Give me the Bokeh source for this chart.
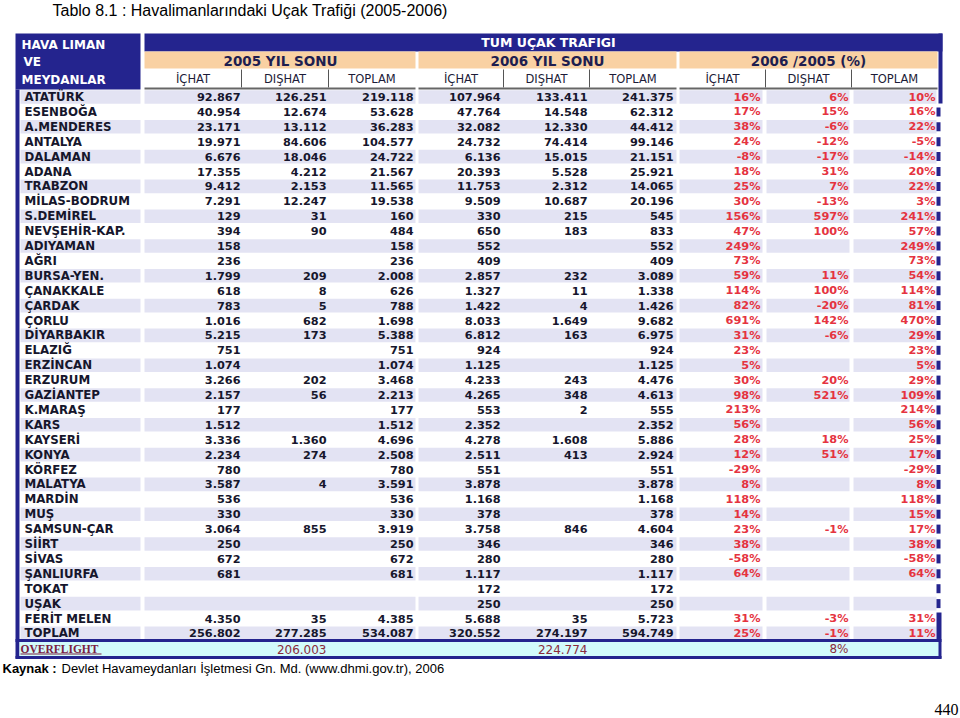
from bokeh.plotting import figure
from bokeh.models import Range1d
from bokeh.embed import file_html
from bokeh.resources import INLINE
from bokeh.core.properties import value

# ---------------- data ----------------
title = "Tablo 8.1 : Havalimanlarındaki Uçak Trafiği (2005-2006)"
source_bold = "Kaynak :"
source_text = "Devlet Havameydanları İşletmesi Gn. Md. (www.dhmi.gov.tr), 2006"
page_number = "440"

group_labels = ["2005 YIL SONU", "2006 YIL SONU", "2006 /2005 (%)"]
sub_labels = ["İÇHAT", "DIŞHAT", "TOPLAM"]

airports = ["ATATÜRK", "ESENBOĞA", "A.MENDERES", "ANTALYA", "DALAMAN", "ADANA",
            "TRABZON", "MİLAS-BODRUM", "S.DEMİREL", "NEVŞEHİR-KAP.", "ADIYAMAN",
            "AĞRI", "BURSA-YEN.", "ÇANAKKALE", "ÇARDAK", "ÇORLU", "DİYARBAKIR",
            "ELAZIĞ", "ERZİNCAN", "ERZURUM", "GAZİANTEP", "K.MARAŞ", "KARS",
            "KAYSERİ", "KONYA", "KÖRFEZ", "MALATYA", "MARDİN", "MUŞ",
            "SAMSUN-ÇAR", "SİİRT", "SİVAS", "ŞANLIURFA", "TOKAT", "UŞAK",
            "FERİT MELEN", "TOPLAM"]

ichat_2005 = [92867, 40954, 23171, 19971, 6676, 17355, 9412, 7291, 129, 394, 158,
              236, 1799, 618, 783, 1016, 5215, 751, 1074, 3266, 2157, 177, 1512,
              3336, 2234, 780, 3587, 536, 330, 3064, 250, 672, 681, None, None,
              4350, 256802]
dishat_2005 = [126251, 12674, 13112, 84606, 18046, 4212, 2153, 12247, 31, 90, None,
               None, 209, 8, 5, 682, 173, None, None, 202, 56, None, None,
               1360, 274, None, 4, None, None, 855, None, None, None, None, None,
               35, 277285]
toplam_2005 = [219118, 53628, 36283, 104577, 24722, 21567, 11565, 19538, 160, 484, 158,
               236, 2008, 626, 788, 1698, 5388, 751, 1074, 3468, 2213, 177, 1512,
               4696, 2508, 780, 3591, 536, 330, 3919, 250, 672, 681, None, None,
               4385, 534087]
ichat_2006 = [107964, 47764, 32082, 24732, 6136, 20393, 11753, 9509, 330, 650, 552,
              409, 2857, 1327, 1422, 8033, 6812, 924, 1125, 4233, 4265, 553, 2352,
              4278, 2511, 551, 3878, 1168, 378, 3758, 346, 280, 1117, 172, 250,
              5688, 320552]
dishat_2006 = [133411, 14548, 12330, 74414, 15015, 5528, 2312, 10687, 215, 183, None,
               None, 232, 11, 4, 1649, 163, None, None, 243, 348, 2, None,
               1608, 413, None, None, None, None, 846, None, None, None, None, None,
               35, 274197]
toplam_2006 = [241375, 62312, 44412, 99146, 21151, 25921, 14065, 20196, 545, 833, 552,
               409, 3089, 1338, 1426, 9682, 6975, 924, 1125, 4476, 4613, 555, 2352,
               5886, 2924, 551, 3878, 1168, 378, 4604, 346, 280, 1117, 172, 250,
               5723, 594749]
pct_ichat = [16, 17, 38, 24, -8, 18, 25, 30, 156, 47, 249,
             73, 59, 114, 82, 691, 31, 23, 5, 30, 98, 213, 56,
             28, 12, -29, 8, 118, 14, 23, 38, -58, 64, None, None,
             31, 25]
pct_dishat = [6, 15, -6, -12, -17, 31, 7, -13, 597, 100, None,
              None, 11, 100, -20, 142, -6, None, None, 20, 521, None, None,
              18, 51, None, None, None, None, -1, None, None, None, None, None,
              -3, -1]
pct_toplam = [10, 16, 22, -5, -14, 20, 22, 3, 241, 57, 249,
              73, 54, 114, 81, 470, 29, 23, 5, 29, 109, 214, 56,
              25, 17, -29, 8, 118, 15, 17, 38, -58, 64, None, None,
              31, 11]

overflight_label = "OVERFLIGHT"
overflight_2005 = 206003
overflight_2006 = 224774
overflight_pct = 8

# ---------------- helpers ----------------
def fnum(v):
    return "" if v is None else f"{v:,}".replace(",", ".")

def fpct(v):
    return "" if v is None else f"{v}%"

NAVY = "#24248e"
PEACH = "#f9d1a3"
STRIPE = "#e3e3f3"
TXT = "#16162c"
RED = "#e5333f"
MAROON = "#8a2c3c"
FONT = "DejaVu Sans"

p = figure(width=960, height=718, x_range=Range1d(0, 960), y_range=Range1d(718, 0),
           output_backend="svg", toolbar_location=None, min_border=0,
           x_axis_type=None, y_axis_type=None)
p.outline_line_color = None
p.background_fill_color = "white"
p.border_fill_color = "white"

n = len(airports)
def yc(i):
    return 96.5 + 14.9 * i

# ---- stripes ----
segs = [(20, 140), (144, 415), (418, 676), (679, 762), (766, 849), (853, 936)]
L, R, T, B = [], [], [], []
for i in range(n):
    if i % 2 == 0:
        for a, b in segs:
            L.append(a); R.append(b); T.append(yc(i) - 6.8); B.append(yc(i) + 6.8)
p.quad(left=L, right=R, top=T, bottom=B, fill_color=STRIPE, line_color=None)

# ---- header blocks ----
p.quad(left=[15, 144, 938], right=[140, 942, 942], top=[33, 33, 33], bottom=[89, 51, 103],
       fill_color=NAVY, line_color=None)
p.quad(left=[144, 418, 679], right=[415, 676, 937], top=[51, 51, 51], bottom=[68, 68, 68],
       fill_color=PEACH, line_color=None)
p.segment(x0=[241, 328, 503, 589, 765, 851], y0=[69] * 6,
          x1=[241, 328, 503, 589, 765, 851], y1=[87] * 6, line_color="#555555", line_width=1)
p.segment(x0=[144, 418, 679], y0=[88, 88, 88], x1=[415, 676, 937], y1=[88, 88, 88],
          line_color="#666666", line_width=2)

# ---- borders ----
p.quad(left=[15], right=[19], top=[89], bottom=[658], fill_color=NAVY, line_color=None)
mk_l, mk_r, mk_t, mk_b = [], [], [], []
for i in range(1, 35):
    mk_l.append(936); mk_r.append(940); mk_t.append(yc(i) - 4.5); mk_b.append(yc(i) + 4.5)
p.quad(left=mk_l, right=mk_r, top=mk_t, bottom=mk_b, fill_color=NAVY, line_color=None)
p.quad(left=[936], right=[941], top=[yc(35) - 6], bottom=[658], fill_color=NAVY, line_color=None)

# ---- overflight row ----
p.quad(left=[19], right=[938], top=[641], bottom=[656], fill_color="#d2fbfb", line_color=None)
p.quad(left=[15, 15], right=[941, 941], top=[638.5, 655.5], bottom=[641.5, 658.5],
       fill_color=NAVY, line_color=None)

# ---- header texts ----
p.text(x=[21, 23, 21], y=[44, 61, 79], text=["HAVA LIMAN", " VE", "MEYDANLAR"],
       text_font=value(FONT), text_font_style="bold", text_font_size="12px",
       text_color="white", text_baseline="middle", text_align="left")
p.text(x=[548], y=[42], text=["TUM UÇAK TRAFIGI"], text_font=value(FONT),
       text_font_style="bold", text_font_size="12.5px", text_color="white",
       text_baseline="middle", text_align="center")
p.text(x=[280, 547, 808], y=[60, 60, 60], text=group_labels, text_font=value(FONT),
       text_font_style="bold", text_font_size="13.5px", text_color="#1e1e50",
       text_baseline="middle", text_align="center")
cells = [(144, 241), (241, 328), (328, 415), (418, 503), (503, 589), (589, 676),
         (679, 765), (765, 851), (851, 937)]
p.text(x=[(a + b) / 2 for a, b in cells], y=[78.5] * 9, text=sub_labels * 3,
       text_font=value(FONT), text_font_size="11.5px", text_color="#1c1c38",
       text_baseline="middle", text_align="center")

# ---- body texts ----
ys = [yc(i) for i in range(n)]
p.text(x=[24] * n, y=ys, text=airports, text_font=value(FONT), text_font_style="bold",
       text_font_size="11.8px", text_color=TXT, text_baseline="middle", text_align="left")

num_cols = [ichat_2005, dishat_2005, toplam_2005, ichat_2006, dishat_2006, toplam_2006]
num_right = [240, 326, 413, 500, 587, 673]
xs, yy, tt = [], [], []
for col, xr in zip(num_cols, num_right):
    for i, v in enumerate(col):
        xs.append(xr); yy.append(yc(i)); tt.append(fnum(v))
p.text(x=xs, y=yy, text=tt, text_font=value(FONT), text_font_style="bold",
       text_font_size="11.3px", text_color=TXT, text_baseline="middle", text_align="right")

pct_cols = [pct_ichat, pct_dishat, pct_toplam]
pct_right = [760, 848, 935]
xs, yy, tt = [], [], []
for col, xr in zip(pct_cols, pct_right):
    for i, v in enumerate(col):
        xs.append(xr); yy.append(yc(i)); tt.append(fpct(v))
p.text(x=xs, y=yy, text=tt, text_font=value(FONT), text_font_style="bold",
       text_font_size="11.3px", text_color=RED, text_baseline="middle", text_align="right")

# ---- overflight texts ----
p.text(x=[20], y=[648], text=[overflight_label], text_font=value("Liberation Serif"),
       text_font_style="bold", text_font_size="11.5px", text_color="#7b2040",
       text_baseline="middle", text_align="left")
p.segment(x0=[20], y0=[653.5], x1=[101], y1=[653.5], line_color="#7b2040", line_width=1.2)
p.text(x=[326, 587, 848], y=[648.5] * 3,
       text=[fnum(overflight_2005), fnum(overflight_2006), fpct(overflight_pct)],
       text_font=value(FONT), text_font_size="12px", text_color=MAROON,
       text_baseline="middle", text_align="right")

# ---- title / footer ----
p.text(x=[52], y=[10], text=[title], text_font=value("Liberation Sans"),
       text_font_size="16px", text_color="black", text_baseline="middle", text_align="left")
p.text(x=[2], y=[668], text=[source_bold], text_font=value("Liberation Sans"),
       text_font_style="bold", text_font_size="13px", text_color="black",
       text_baseline="middle", text_align="left")
p.text(x=[61], y=[668], text=[source_text], text_font=value("Liberation Sans"),
       text_font_size="13px", text_color="black", text_baseline="middle", text_align="left")
p.text(x=[958], y=[714], text=[page_number], text_font=value("Liberation Serif"),
       text_font_size="16px", text_color="black", text_baseline="bottom", text_align="right")

open("out.html", "w").write(file_html(p, INLINE))
